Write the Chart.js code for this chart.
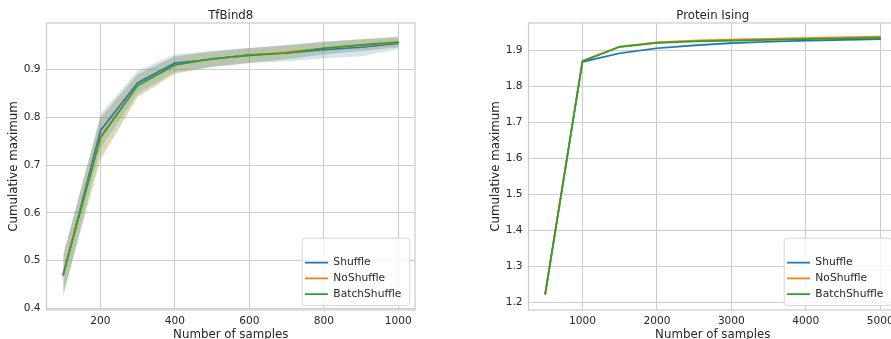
<!DOCTYPE html>
<html>
<head>
<meta charset="utf-8">
<script src="https://cdn.jsdelivr.net/npm/chart.js@4.4.1/dist/chart.umd.min.js"></script>
<style>
html, body { margin: 0; padding: 0; background: #ffffff; overflow: hidden; width: 891px; height: 339px; }
canvas { position: absolute; top: 0; }
#tfbind { left: 0; }
#ising { left: 482px; }
</style>
</head>
<body>
<canvas id="tfbind" width="445" height="350"></canvas>
<canvas id="ising" width="445" height="350"></canvas>
<script>
// ---------- data ----------
const seriesNames = ['Shuffle', 'NoShuffle', 'BatchShuffle'];
const seriesColors = ['#1f77b4', '#ff7f0e', '#2ca02c'];
const bandColors = ['rgba(31,119,180,0.2)', 'rgba(255,127,14,0.2)', 'rgba(44,160,44,0.2)'];

// TfBind8
const tfbindSamples = [100, 200, 300, 400, 500, 600, 700, 800, 900, 1000];
const tfbindXTicks = [200, 400, 600, 800, 1000];
const tfbindYTicks = [0.4, 0.5, 0.6, 0.7, 0.8, 0.9];
const tfbindShuffle      = [0.470, 0.772, 0.872, 0.913, 0.921, 0.930, 0.934, 0.941, 0.946, 0.954];
const tfbindShuffleLow   = [0.424, 0.735, 0.850, 0.895, 0.905, 0.913, 0.917, 0.923, 0.927, 0.942];
const tfbindShuffleHigh  = [0.510, 0.806, 0.897, 0.931, 0.938, 0.945, 0.951, 0.958, 0.962, 0.966];
const tfbindNoShuffle     = [0.473, 0.760, 0.867, 0.909, 0.922, 0.929, 0.936, 0.944, 0.950, 0.956];
const tfbindNoShuffleLow  = [0.432, 0.715, 0.843, 0.891, 0.906, 0.913, 0.922, 0.932, 0.938, 0.946];
const tfbindNoShuffleHigh = [0.512, 0.800, 0.890, 0.927, 0.937, 0.944, 0.950, 0.957, 0.963, 0.968];
const tfbindBatchShuffle     = [0.472, 0.757, 0.866, 0.909, 0.922, 0.929, 0.934, 0.944, 0.951, 0.957];
const tfbindBatchShuffleLow  = [0.430, 0.710, 0.842, 0.890, 0.905, 0.913, 0.921, 0.931, 0.938, 0.946];
const tfbindBatchShuffleHigh = [0.514, 0.798, 0.889, 0.926, 0.937, 0.944, 0.949, 0.957, 0.963, 0.969];

// Protein Ising
const isingSamples = [500, 1000, 1500, 2000, 2500, 3000, 3500, 4000, 4500, 5000];
const isingXTicks = [1000, 2000, 3000, 4000, 5000];
const isingYTicks = [1.2, 1.3, 1.4, 1.5, 1.6, 1.7, 1.8, 1.9];
const isingShuffle      = [1.223, 1.867, 1.891, 1.905, 1.913, 1.919, 1.923, 1.926, 1.928, 1.930];
const isingShuffleLow   = [1.217, 1.864, 1.888, 1.902, 1.910, 1.916, 1.920, 1.923, 1.925, 1.928];
const isingShuffleHigh  = [1.229, 1.870, 1.894, 1.908, 1.916, 1.922, 1.926, 1.929, 1.931, 1.933];
const isingNoShuffle     = [1.223, 1.870, 1.909, 1.921, 1.926, 1.929, 1.931, 1.933, 1.935, 1.937];
const isingNoShuffleLow  = [1.217, 1.867, 1.906, 1.918, 1.923, 1.926, 1.929, 1.931, 1.933, 1.935];
const isingNoShuffleHigh = [1.229, 1.874, 1.912, 1.924, 1.929, 1.932, 1.934, 1.936, 1.938, 1.940];
const isingBatchShuffle     = [1.224, 1.869, 1.909, 1.920, 1.924, 1.926, 1.928, 1.930, 1.932, 1.934];
const isingBatchShuffleLow  = [1.218, 1.866, 1.906, 1.917, 1.921, 1.923, 1.926, 1.928, 1.930, 1.932];
const isingBatchShuffleHigh = [1.230, 1.872, 1.912, 1.923, 1.927, 1.929, 1.931, 1.933, 1.935, 1.937];

// ---------- styling ----------
const FONT = 'DejaVu Sans';
const TEXT = '#262626';
const GRID = '#cccccc';

function pts(xs, ys) { return xs.map((x, j) => ({ x: x, y: ys[j] })); }

function buildDatasets(xs, means, lows, highs) {
  const ds = [];
  for (let i = 0; i < 3; i++) {
    ds.push({
      label: seriesNames[i], data: pts(xs, means[i]),
      borderColor: seriesColors[i], backgroundColor: seriesColors[i],
      borderWidth: 1.7, pointRadius: 0, pointHoverRadius: 0, fill: false,
      tension: 0, borderJoinStyle: 'round', borderCapStyle: 'round', order: 2 - i
    });
  }
  for (let i = 0; i < 3; i++) {
    ds.push({ label: '', data: pts(xs, lows[i]), borderColor: 'rgba(0,0,0,0)', backgroundColor: 'rgba(0,0,0,0)',
      pointRadius: 0, pointHoverRadius: 0, fill: false, order: 10 });
    ds.push({ label: '', data: pts(xs, highs[i]), borderColor: 'rgba(0,0,0,0)', backgroundColor: bandColors[i],
      pointRadius: 0, pointHoverRadius: 0, fill: '-1', order: 10 });
  }
  return ds;
}

function roundRect(ctx, x, y, w, h, r) {
  ctx.beginPath();
  ctx.moveTo(x + r, y);
  ctx.lineTo(x + w - r, y); ctx.arcTo(x + w, y, x + w, y + r, r);
  ctx.lineTo(x + w, y + h - r); ctx.arcTo(x + w, y + h, x + w - r, y + h, r);
  ctx.lineTo(x + r, y + h); ctx.arcTo(x, y + h, x, y + h - r, r);
  ctx.lineTo(x, y + r); ctx.arcTo(x, y, x + r, y, r);
  ctx.closePath();
}

const legendFramePlugin = {
  id: 'legendFrame',
  afterLayout(chart) {
    const lg = chart.legend; const ca = chart.chartArea;
    if (!lg) return;
    const fw = 107.5, fh = 67.3;
    const fx = ca.right - 5.8 - fw, fy = ca.bottom - 5 - fh;
    chart.$frame = { x: fx, y: fy, w: fw, h: fh };
    const pad = lg.options.labels.padding;
    const fs = lg.options.labels.font.size;
    lg.left = fx + 3.3 - pad;
    lg.top = fy + 25 - fs / 2 - pad;
    lg.width = fw; lg.height = fh + 40;
    lg.right = lg.left + lg.width; lg.bottom = lg.top + lg.height;
    if (!lg.$framed) {
      const orig = lg.draw;
      lg.draw = function () {
        const f = chart.$frame; const ctx = chart.ctx;
        ctx.save();
        roundRect(ctx, f.x + 0.5, f.y + 0.5, f.w, f.h, 3);
        ctx.fillStyle = 'rgba(255,255,255,0.8)';
        ctx.fill();
        ctx.lineWidth = 1;
        ctx.strokeStyle = 'rgba(204,204,204,0.8)';
        ctx.stroke();
        ctx.restore();
        return orig.apply(this, arguments);
      };
      lg.$framed = true;
    }
  }
};

const spinePlugin = {
  id: 'spines',
  afterDatasetsDraw(chart) {
    const ca = chart.chartArea; const ctx = chart.ctx;
    ctx.save();
    ctx.strokeStyle = GRID; ctx.lineWidth = 1.25;
    ctx.strokeRect(ca.left, ca.top, ca.right - ca.left, ca.bottom - ca.top);
    ctx.restore();
  }
};

function makeChart(id, title, xs, means, lows, highs, xTicks, yTicks, xMin, xMax, yMin, yMax) {
  return new Chart(document.getElementById(id), {
    type: 'line',
    data: { datasets: buildDatasets(xs, means, lows, highs) },
    plugins: [legendFramePlugin, spinePlugin],
    options: {
      responsive: false, animation: false, devicePixelRatio: 1,
      events: [],
      layout: { padding: { left: 0, right: 30, top: 0, bottom: 0 } },
      plugins: {
        tooltip: { enabled: false },
        title: {
          display: true, text: title, color: TEXT, fullSize: false,
          font: { family: FONT, size: 11.8, weight: 'normal', lineHeight: 1.2 },
          padding: { top: 8.4, bottom: 0.44 }
        },
        legend: {
          display: true, position: 'chartArea', align: 'start',
          labels: {
            color: TEXT, font: { family: FONT, size: 10.7 }, padding: 5,
            usePointStyle: true, pointStyle: 'line', pointStyleWidth: 23, boxHeight: 10.7,
            generateLabels(chart) {
              const items = Chart.defaults.plugins.legend.labels.generateLabels(chart);
              return items.filter(it => it.datasetIndex < 3)
                .sort((a, b) => a.datasetIndex - b.datasetIndex)
                .map(it => Object.assign(it, { lineWidth: 1.7, pointStyle: 'line', strokeStyle: seriesColors[it.datasetIndex], lineCap: 'butt' }));
            }
          }
        }
      },
      scales: {
        x: {
          type: 'linear', min: xMin, max: xMax,
          afterBuildTicks(s) { s.ticks = xTicks.map(v => ({ value: v })); },
          afterFit(s) { s.height = 40; },
          grid: { color: GRID, lineWidth: 1, drawTicks: false },
          border: { display: false },
          ticks: { color: TEXT, font: { family: FONT, size: 10.6 }, padding: 5, maxRotation: 0, autoSkip: false,
            callback: v => String(v) },
          title: { display: true, text: 'Number of samples', color: TEXT,
            font: { family: FONT, size: 11.8, lineHeight: 1.2 }, padding: { top: 0, bottom: 7.7 } }
        },
        y: {
          type: 'linear', min: yMin, max: yMax,
          afterBuildTicks(s) { s.ticks = yTicks.map(v => ({ value: v })); },
          afterFit(s) { s.width = 46.5; },
          grid: { color: GRID, lineWidth: 1, drawTicks: false },
          border: { display: false },
          ticks: { color: TEXT, font: { family: FONT, size: 10.6 }, padding: 6, autoSkip: false,
            callback: v => Number(v).toFixed(1) },
          title: { display: true, text: 'Cumulative maximum', color: TEXT,
            font: { family: FONT, size: 11.8, lineHeight: 1.2 }, padding: { top: 6.4, bottom: 0 } }
        }
      }
    }
  });
}

makeChart('tfbind', 'TfBind8', tfbindSamples,
  [tfbindShuffle, tfbindNoShuffle, tfbindBatchShuffle],
  [tfbindShuffleLow, tfbindNoShuffleLow, tfbindBatchShuffleLow],
  [tfbindShuffleHigh, tfbindNoShuffleHigh, tfbindBatchShuffleHigh],
  tfbindXTicks, tfbindYTicks, 55, 1045, 0.3971, 0.9967);

makeChart('ising', 'Protein Ising', isingSamples,
  [isingShuffle, isingNoShuffle, isingBatchShuffle],
  [isingShuffleLow, isingNoShuffleLow, isingBatchShuffleLow],
  [isingShuffleHigh, isingNoShuffleHigh, isingBatchShuffleHigh],
  isingXTicks, isingYTicks, 275, 5225, 1.1786, 1.975);
</script>
</body>
</html>
